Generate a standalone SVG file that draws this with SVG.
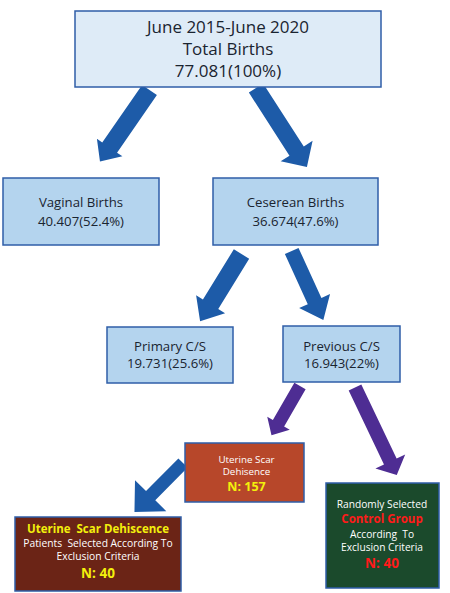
<svg xmlns="http://www.w3.org/2000/svg" width="450" height="593" viewBox="0 0 450 593">
<style>
.bg{fill:#ffffff}
.box{stroke:#2f5ea8;stroke-width:1.5}
.l1{fill:#deebf7}
.l2{fill:#b4d4ee}
.t{font-family:"Open Sans","Noto Sans",sans-serif;text-anchor:middle;fill:#1a2430}
.big{font-size:17px}
.mid{font-size:13.2px}
.w{fill:#ffffff}
.y{fill:#f3f00c;font-weight:bold}
.r{fill:#ff1a1a;font-weight:bold}
.pre{white-space:pre}
.ab{fill:#1d5ba8}
.ap{fill:#4e2d93}
</style>
<rect class="bg" x="0" y="0" width="450" height="593"/>
<g id="connectors">
<path class="ab" transform="translate(149.5,90) rotate(124.7)" d="M0,-9 H70 V-15.5 L87,0 L70,15.5 V9 H0 Z"/>
<path class="ab" transform="translate(256,88) rotate(57.2)" d="M0,-8.5 H75 V-19 L94,0 L75,19 V8.5 H0 Z"/>
<path class="ab" transform="translate(241.5,254) rotate(121.6)" d="M0,-9 H59 V-17 L79,0 L59,17 V9 H0 Z"/>
<path class="ab" transform="translate(291.7,251) rotate(65.4)" d="M0,-7.5 H55 V-17 L76,0 L55,17 V7.5 H0 Z"/>
<path class="ap" transform="translate(300,386) rotate(120)" d="M0,-6.5 H43 V-13 L57,0 L43,13 V6.5 H0 Z"/>
<path class="ap" transform="translate(355,387.5) rotate(64.5)" d="M0,-7 H82 V-16.5 L97,0 L82,16.5 V7 H0 Z"/>
<path class="ab" transform="translate(183,463) rotate(134.7)" d="M0,-6.5 H46 V-22 L69,0 L46,22 V6.5 H0 Z"/>
</g>
<g id="total">
<rect class="box l1" x="75" y="11" width="306" height="76"/>
<text class="t big" x="228" y="32.5">June 2015-June 2020</text>
<text class="t big" x="228" y="54.5">Total Births</text>
<text class="t big" x="228" y="76.5">77.081(100%)</text>
</g>
<g id="vaginal">
<rect class="box l2" x="3" y="178" width="156" height="67"/>
<text class="t mid" x="81" y="207">Vaginal Births</text>
<text class="t mid" x="81" y="225.5">40.407(52.4%)</text>
</g>
<g id="cesarean">
<rect class="box l2" x="213" y="178" width="165" height="67"/>
<text class="t mid" x="295.5" y="207">Ceserean Births</text>
<text class="t mid" x="295.5" y="225.5">36.674(47.6%)</text>
</g>
<g id="primary">
<rect class="box l2" x="107" y="327" width="126" height="56"/>
<text class="t mid" x="170" y="350.7">Primary C/S</text>
<text class="t mid" x="170" y="368.3">19.731(25.6%)</text>
</g>
<g id="previous">
<rect class="box l2" x="283" y="326" width="117" height="56"/>
<text class="t mid" x="341.5" y="350.7">Previous C/S</text>
<text class="t mid" x="341.5" y="368.3">16.943(22%)</text>
</g>
<g id="dehiscence">
<rect class="box" fill="#b7472a" x="185" y="443" width="119" height="59"/>
<text class="t w" x="246.5" y="463" font-size="9.8">Uterine Scar</text>
<text class="t w" x="246.5" y="475" font-size="9.8">Dehisence</text>
<text class="t y" x="246.5" y="490.7" font-size="12.5">N: 157</text>
</g>
<g id="selected">
<rect class="box" fill="#6b2416" x="15" y="517" width="166" height="74"/>
<text class="t y pre" x="98" y="533.3" font-size="11.5">Uterine  Scar Dehiscence</text>
<text class="t w pre" x="98" y="546.7" font-size="10.3">Patients  Selected According To</text>
<text class="t w" x="98" y="560" font-size="10.3">Exclusion Criteria</text>
<text class="t y" x="98" y="577.7" font-size="13.5">N: 40</text>
</g>
<g id="control">
<rect class="box" fill="#1b4a2c" x="326" y="483" width="113" height="105"/>
<text class="t w" x="382" y="508.2" font-size="10.2">Randomly Selected</text>
<text class="t r" x="382" y="523" font-size="11.5">Control Group</text>
<text class="t w pre" x="382" y="537.6" font-size="10.2">According  To</text>
<text class="t w" x="382" y="551.3" font-size="10.2">Exclusion Criteria</text>
<text class="t r" x="382" y="567.5" font-size="13.5">N: 40</text>
</g>
</svg>
